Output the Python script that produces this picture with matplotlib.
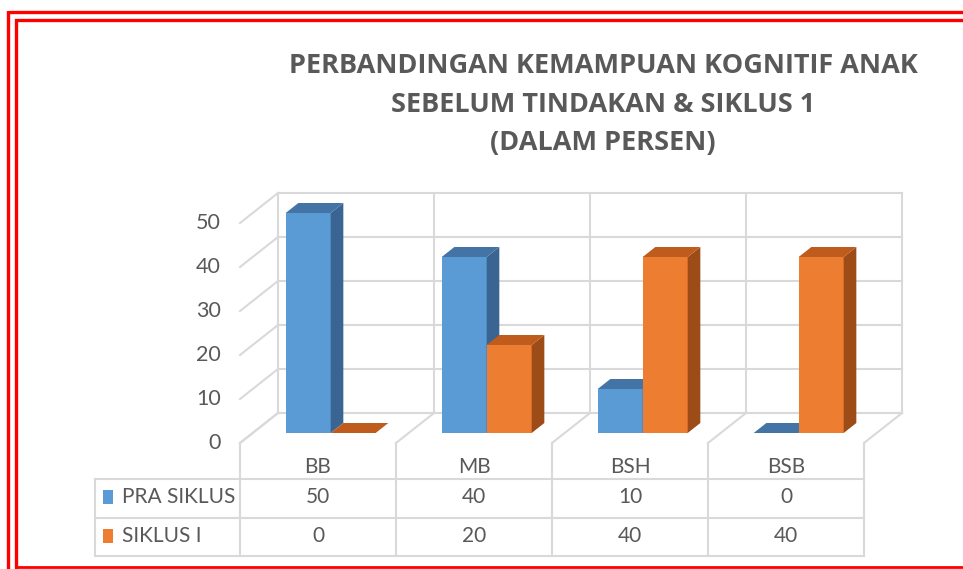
import matplotlib
matplotlib.use("Agg")
import matplotlib.pyplot as plt
from matplotlib.patches import Polygon, Rectangle, FancyBboxPatch

# ---------------- data ----------------
categories = ["BB", "MB", "BSH", "BSB"]
series_names = ["PRA SIKLUS", "SIKLUS I"]
pra_siklus = [50, 40, 10, 0]
siklus_1 = [0, 20, 40, 40]
y_ticks = [0, 10, 20, 30, 40, 50]
title_lines = ["PERBANDINGAN KEMAMPUAN KOGNITIF ANAK",
               "SEBELUM TINDAKAN & SIKLUS 1",
               "(DALAM PERSEN)"]

# ---------------- style ----------------
FACE = ["#5B9BD5", "#ED7D31"]
TOP = ["#4473A6", "#BF5C1D"]
SIDE = ["#3A6592", "#9D4B17"]
GRID = "#D9D9D9"
TXT = "#595959"
RED = "#FF0000"
FONT = "Lato"
TFONT = "Open Sans"

W, H = 963, 569
fig = plt.figure(figsize=(W / 100, H / 100), dpi=100)
ax = fig.add_axes([0, 0, 1, 1])

# layout (pixel geometry of the plot box)
PX0, PY0 = 240.0, 443.0     # front-left corner of floor
SX, SY = 156.0, 4.4         # px per category / px per value unit
ax.set_xlim((0 - PX0) / SX, (W - PX0) / SX)
ax.set_ylim((PY0 - H) / SY, (PY0 - 0) / SY)
ax.axis("off")

def X(px):
    return (px - PX0) / SX

def Y(py):
    return (PY0 - py) / SY

DX = 38.0 / SX              # full depth offset in category units
DY = 30.0 / SY              # full depth offset in value units
ncat = len(categories)
vmax = max(y_ticks)

glw = 1.5
# back wall grid
for v in y_ticks:
    ax.plot([DX, ncat + DX], [v + DY, v + DY], color=GRID, lw=glw, zorder=1)
    # side wall diagonals
    ax.plot([0, DX], [v, v + DY], color=GRID, lw=glw, zorder=1)
for i in range(ncat + 1):
    ax.plot([i + DX, i + DX], [DY, vmax + DY], color=GRID, lw=glw, zorder=1)
    # floor diagonals
    ax.plot([i, i + DX], [0, DY], color=GRID, lw=glw, zorder=1)

# y tick labels
for v in y_ticks:
    ax.text(X(221), v, str(v), ha="right", va="center", fontsize=15.5,
            color=TXT, family=FONT)

# bars
bw = 45.0 / SX
d0 = 1.0 / 3.0
d1 = 1.0 / 3.0
series = [pra_siklus, siklus_1]
z = 3
for i in range(ncat):
    for s, vals in enumerate(series):
        v = vals[i]
        x0 = i + 0.5 - bw + s * bw + DX * d0
        y0 = DY * d0
        ox, oy = DX * d1, DY * d1
        if v > 0:
            ax.add_patch(Rectangle((x0, y0), bw, v, facecolor=FACE[s],
                                   edgecolor="none", zorder=z))
            ax.add_patch(Polygon([(x0 + bw, y0), (x0 + bw + ox, y0 + oy),
                                  (x0 + bw + ox, y0 + v + oy), (x0 + bw, y0 + v)],
                                 closed=True, facecolor=SIDE[s], edgecolor="none",
                                 zorder=z))
        ax.add_patch(Polygon([(x0, y0 + v), (x0 + bw, y0 + v),
                              (x0 + bw + ox, y0 + v + oy), (x0 + ox, y0 + v + oy)],
                             closed=True, facecolor=TOP[s], edgecolor="none",
                             zorder=z))
        z += 1

# data table
tl = 1.5
col_x = [X(240 + 156 * k) for k in range(ncat + 1)]
ax.plot([X(95), X(95)], [Y(479), Y(556)], color=GRID, lw=tl, zorder=2)
for cx in col_x:
    ax.plot([cx, cx], [0, Y(556)], color=GRID, lw=tl, zorder=2)
for ry in [479, 518, 556]:
    ax.plot([X(95), col_x[-1]], [Y(ry), Y(ry)], color=GRID, lw=tl, zorder=2)

for i, c in enumerate(categories):
    ax.text(i + 0.5, Y(467), c, ha="center", va="center", fontsize=15,
            color=TXT, family=FONT)
row_y = [497, 536]
for s, vals in enumerate(series):
    ry = row_y[s]
    ax.add_patch(Rectangle((X(103), Y(ry + 7)), X(113) - X(103), Y(ry - 7) - Y(ry + 7),
                           facecolor=FACE[s], edgecolor="none", zorder=3))
    ax.text(X(122), Y(ry), series_names[s], ha="left", va="center", fontsize=15,
            color=TXT, family=FONT)
    for i, v in enumerate(vals):
        ax.text(i + 0.5, Y(ry), str(v), ha="center", va="center", fontsize=15,
                color=TXT, family=FONT)

# title
for k, line in enumerate(title_lines):
    ax.text(X(603), Y(66 + 38.5 * k), line, ha="center", va="center",
            fontsize=19.5, fontweight="bold", color=TXT, family=TFONT)

# red frame (double line)
ax.add_patch(FancyBboxPatch((X(8.5), Y(600)), X(1100) - X(8.5), Y(12.5) - Y(600),
                            boxstyle="round,pad=0,rounding_size=0.03",
                            facecolor="none", edgecolor=RED, lw=2.4, zorder=10,
                            clip_on=False))
ax.plot([X(15.5), X(15.5), X(W + 5)], [Y(567), Y(20), Y(20)], color=RED, lw=2.4,
        zorder=10, solid_joinstyle="miter")
ax.plot([X(15.5), X(W + 5)], [Y(567), Y(567)], color=RED, lw=2.0, zorder=10)

fig.savefig("out.png", dpi=100)
